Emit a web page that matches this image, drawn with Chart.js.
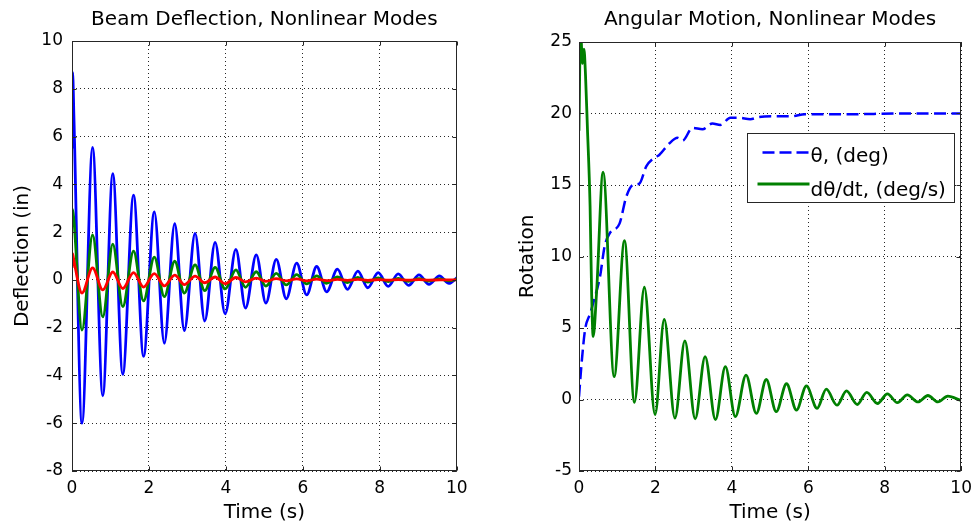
<!DOCTYPE html>
<html><head><meta charset="utf-8">
<script src="https://cdn.jsdelivr.net/npm/chart.js@4/dist/chart.umd.min.js"></script>
<style>
html,body{margin:0;padding:0;background:#fff;}
#wrap{position:relative;width:979px;height:531px;overflow:hidden;background:#fff;}
canvas{position:absolute;top:0;}
#c1{left:0;} #c2{left:489px;}
</style></head><body>
<div id="wrap"><canvas id="c1" width="489" height="531"></canvas><canvas id="c2" width="490" height="531"></canvas></div>
<script>
// ---------- data ----------
const timeLeft = [0, 0.015, 0.05, 0.26, 0.535, 0.8, 1.06, 1.32, 1.6, 1.86, 2.14, 2.4, 2.67, 2.92, 3.2, 3.45, 3.72, 3.98, 4.26, 4.51, 4.79, 5.04, 5.31, 5.57, 5.84, 6.1, 6.36, 6.62, 6.9, 7.16, 7.43, 7.69, 7.96, 8.22, 8.48, 8.75, 9.02, 9.28, 9.55, 9.8, 10];
const mode1 = [5.5, 8.7, 6.8, -6.0, 5.55, -4.85, 4.45, -3.95, 3.55, -3.2, 2.85, -2.65, 2.35, -2.12, 1.95, -1.72, 1.57, -1.42, 1.28, -1.18, 1.05, -0.97, 0.86, -0.79, 0.7, -0.63, 0.56, -0.5, 0.45, -0.4, 0.37, -0.33, 0.3, -0.27, 0.25, -0.23, 0.21, -0.19, 0.17, -0.15, 0.08];
const mode2 = [2.3, 2.95, 2.5, -2.1, 1.88, -1.55, 1.5, -1.12, 1.2, -0.88, 0.95, -0.7, 0.78, -0.55, 0.63, -0.45, 0.52, -0.38, 0.42, -0.31, 0.34, -0.26, 0.27, -0.21, 0.22, -0.17, 0.17, -0.14, 0.13, -0.11, 0.1, -0.09, 0.08, -0.07, 0.06, -0.06, 0.05, -0.05, 0.04, -0.04, 0.02];
const mode3 = [0.5, 1.1, 0.8, -0.55, 0.5, -0.42, 0.33, -0.36, 0.3, -0.3, 0.26, -0.25, 0.2, -0.2, 0.16, -0.12, 0.12, -0.16, 0.1, -0.08, 0.07, -0.06, 0.05, -0.04, 0.04, -0.04, 0.03, -0.03, 0.02, -0.02, 0.02, -0.02, 0.01, -0.01, 0.01, -0.01, 0.01, -0.01, 0.0, 0.0, 0.0];

const timeTheta = [0, 0.07, 0.16, 0.29, 0.42, 0.55, 0.67, 0.8, 1.06, 1.24, 1.41, 1.58, 1.76, 1.97, 2.1, 2.36, 2.58, 2.71, 2.97, 3.23, 3.49, 3.7, 3.96, 4.18, 4.48, 4.7, 5.04, 5.56, 5.91, 7.0, 8.5, 10];
const thetaDeg = [0.2, 2.6, 4.9, 6.0, 7.2, 8.6, 10.7, 11.6, 12.3, 14.2, 15.0, 15.1, 16.3, 16.9, 17.1, 17.9, 18.3, 18.1, 19.0, 18.9, 19.3, 19.2, 19.7, 19.7, 19.6, 19.75, 19.8, 19.8, 19.95, 19.95, 20.0, 20.0];
const timeRate = [0, 0.04, 0.09, 0.13, 0.17, 0.22, 0.29, 0.33, 0.37, 0.46, 0.63, 0.92, 1.19, 1.45, 1.71, 1.99, 2.23, 2.51, 2.77, 3.04, 3.3, 3.57, 3.83, 4.09, 4.37, 4.64, 4.9, 5.16, 5.43, 5.69, 5.95, 6.23, 6.47, 6.75, 7.0, 7.28, 7.53, 7.81, 8.07, 8.33, 8.59, 8.87, 9.13, 9.39, 9.65, 10];
const thetaRate = [18.8, 26.0, 23.5, 24.5, 22.7, 19.0, 13.5, 7.5, 4.4, 7.5, 15.9, 1.6, 11.1, -0.2, 7.85, -1.05, 5.6, -1.3, 4.1, -1.35, 3.0, -1.4, 2.3, -1.2, 1.7, -0.97, 1.4, -0.85, 1.1, -0.74, 0.95, -0.62, 0.72, -0.4, 0.6, -0.35, 0.5, -0.28, 0.4, -0.22, 0.32, -0.17, 0.28, -0.17, 0.24, -0.07];

const xTicks = [0, 2, 4, 6, 8, 10];
const leftYTicks = [-8, -6, -4, -2, 0, 2, 4, 6, 8, 10];
const rightYTicks = [-5, 0, 5, 10, 15, 20, 25];
const leftTitle = 'Beam Deflection, Nonlinear Modes';
const rightTitle = 'Angular Motion, Nonlinear Modes';
const xLabel = 'Time (s)';
const leftYLabel = 'Deflection (in)';
const rightYLabel = 'Rotation';
const legendLabels = ['θ, (deg)', 'dθ/dt, (deg/s)'];

// ---------- chart setup ----------
const FONT = '"DejaVu Sans", sans-serif';
Chart.defaults.font.family = FONT;
Chart.defaults.color = '#000';

const pts = (xs, ys) => xs.map((x, i) => ({x: x, y: ys[i]}));

const framePlugin = {
  id: 'frame',
  afterDraw(chart, args, opts) {
    const {ctx, chartArea: a} = chart;
    const xs = chart.scales.x, ys = chart.scales.y;
    ctx.save();
    ctx.strokeStyle = '#262626';
    ctx.lineWidth = 1;
    ctx.setLineDash([]);
    const L = 4;
    const l = Math.round(a.left) + 0.5, r = Math.round(a.right) - 0.5;
    const t = Math.round(a.top) + 0.5, b = Math.round(a.bottom) - 0.5;
    ctx.beginPath();
    xs.ticks.forEach(tk => {
      const p = Math.round(xs.getPixelForValue(tk.value)) + 0.5;
      ctx.moveTo(p, t); ctx.lineTo(p, t + L);
      ctx.moveTo(p, b); ctx.lineTo(p, b - L);
    });
    ys.ticks.forEach(tk => {
      const p = Math.round(ys.getPixelForValue(tk.value)) + 0.5;
      ctx.moveTo(l, p); ctx.lineTo(l + L, p);
      ctx.moveTo(r, p); ctx.lineTo(r - L, p);
    });
    ctx.stroke();
    ctx.strokeRect(l, t, r - l, b - t);
    // title
    ctx.fillStyle = '#000';
    ctx.font = '20px ' + FONT;
    ctx.textAlign = 'center';
    ctx.textBaseline = 'alphabetic';
    ctx.fillText(opts.text, (a.left + a.right) / 2, 25);
    // legend
    if (opts.legend) {
      const bw = 207, bh = 69;
      const bx = Math.round(a.right - 7.5 - bw) + 0.5, by = Math.round(a.top + 91) + 0.5;
      ctx.fillStyle = '#fff';
      ctx.fillRect(bx, by, bw, bh);
      ctx.strokeStyle = '#262626';
      ctx.lineWidth = 1;
      ctx.strokeRect(bx, by, bw, bh);
      const ds = chart.data.datasets;
      // row 1: dashed theta
      ctx.lineWidth = 2.5;
      ctx.strokeStyle = ds[0].borderColor;
      ctx.setLineDash([12, 5]);
      ctx.beginPath(); ctx.moveTo(bx + 15, by + 19); ctx.lineTo(bx + 62, by + 19); ctx.stroke();
      // row 2: solid rate
      ctx.lineWidth = 3;
      ctx.strokeStyle = ds[1].borderColor;
      ctx.setLineDash([]);
      ctx.beginPath(); ctx.moveTo(bx + 10, by + 50.5); ctx.lineTo(bx + 62, by + 50.5); ctx.stroke();
      ctx.fillStyle = '#000';
      ctx.font = '20px ' + FONT;
      ctx.textAlign = 'left';
      ctx.fillText(legendLabels[0], bx + 63, by + 28.5);
      ctx.fillText(legendLabels[1], bx + 63, by + 62.5);
    }
    ctx.restore();
  }
};

function makeOptions(cfg) {
  return {
    responsive: false,
    animation: false,
    events: [],
    layout: {padding: cfg.padding},
    plugins: {
      legend: {display: false},
      tooltip: {enabled: false},
      title: {display: false},
      frame: {text: cfg.title, legend: cfg.legend}
    },
    elements: {point: {radius: 0}, line: {fill: false}},
    scales: {
      x: {
        type: 'linear', min: 0, max: 10,
        afterBuildTicks: s => { s.ticks = xTicks.map(v => ({value: v})); },
        afterFit: s => { s.height = 60; },
        grid: {color: 'rgba(0,0,0,0.85)', lineWidth: 1, drawTicks: false},
        border: {display: false, dash: [1, 3]},
        ticks: {padding: 7, font: {size: 17}, maxRotation: 0, autoSkip: false, color: '#000'},
        title: {display: true, text: xLabel, font: {size: 20}, color: '#000', padding: {top: 0, bottom: 6}}
      },
      y: {
        type: 'linear', min: cfg.yTicks[0], max: cfg.yTicks[cfg.yTicks.length - 1],
        afterBuildTicks: s => { s.ticks = cfg.yTicks.map(v => ({value: v})); },
        afterFit: s => { s.width = 72; },
        grid: {color: 'rgba(0,0,0,0.85)', lineWidth: 1, drawTicks: false},
        border: {display: false, dash: [1, 3]},
        ticks: {padding: cfg.tickPad, font: {size: 17}, color: '#000'},
        title: {display: true, text: cfg.yLabel, font: {size: 20}, color: '#000', padding: {top: cfg.titlePad, bottom: 0}}
      }
    }
  };
}

new Chart(document.getElementById('c1'), {
  type: 'line',
  data: {
    datasets: [
      {data: pts(timeLeft, mode1), borderColor: '#0000ff', borderWidth: 2.8, cubicInterpolationMode: 'monotone', order: 2},
      {data: pts(timeLeft, mode2), borderColor: '#008000', borderWidth: 2.8, cubicInterpolationMode: 'monotone', order: 1},
      {data: pts(timeLeft, mode3), borderColor: '#ff0000', borderWidth: 2.8, cubicInterpolationMode: 'monotone', order: 0}
    ]
  },
  options: makeOptions({padding: {left: 0, right: 32.3, top: 41, bottom: 0}, yTicks: leftYTicks, yLabel: leftYLabel, title: leftTitle, tickPad: 9, titlePad: 10.5, legend: false}),
  plugins: [framePlugin]
});

new Chart(document.getElementById('c2'), {
  type: 'line',
  data: {
    datasets: [
      {data: pts(timeTheta, thetaDeg), borderColor: '#0000ff', borderWidth: 2.5, borderDash: [12, 5.5], cubicInterpolationMode: 'monotone', order: 1},
      {data: pts(timeRate, thetaRate), borderColor: '#008000', borderWidth: 2.8, cubicInterpolationMode: 'monotone', order: 0}
    ]
  },
  options: makeOptions({padding: {left: 18, right: 14.7, top: 42, bottom: 0}, yTicks: rightYTicks, yLabel: rightYLabel, title: rightTitle, tickPad: 7, titlePad: 8.5, legend: true}),
  plugins: [framePlugin]
});
</script>
</body></html>
